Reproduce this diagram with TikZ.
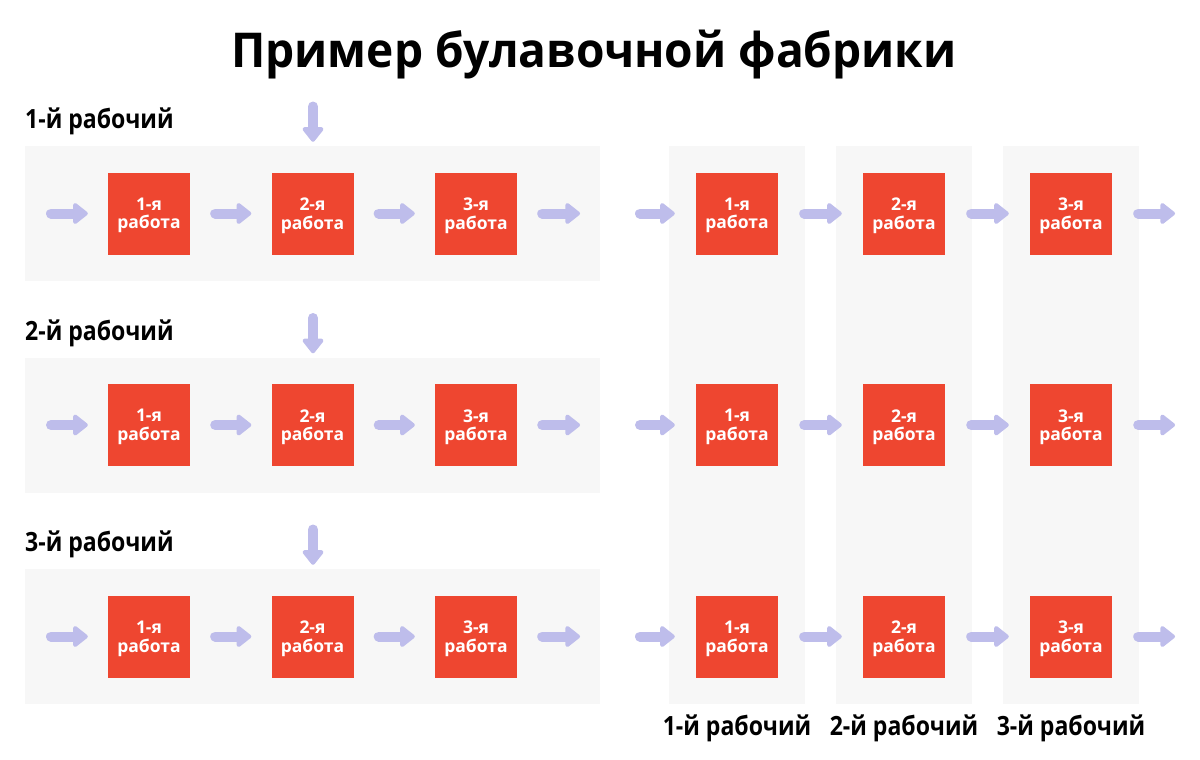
\documentclass[tikz,border=0pt]{standalone}
\usepackage{fontspec}
\setmainfont{Open Sans}
\newfontfamily\titlefont{Open Sans}[FakeStretch=0.96]
\newfontfamily\labelfont{Open Sans}[FakeStretch=0.87]
\usetikzlibrary{arrows.meta,positioning}
\definecolor{panelgray}{HTML}{F7F7F7}
\definecolor{jobred}{HTML}{EE4630}
\definecolor{flowlilac}{HTML}{BEBDEB}
\begin{document}
\begin{tikzpicture}
[x=1pt,y=-1pt,
 panel/.style={fill=panelgray,inner sep=0pt},
 job/.style={fill=jobred,minimum size=82pt,inner sep=0pt,text=white,align=center,text depth=0pt,
   font=\bfseries\fontsize{17.5}{18.5}\selectfont},
 flow/.style={draw=flowlilac,line width=10pt,line cap=round,
   -{Triangle[length=16pt,width=24pt,round]},shorten <=25pt,shorten >=20pt},
 worker/.style={inner sep=0pt,font=\labelfont\bfseries\fontsize{26.5}{28}\selectfont}]
\useasboundingbox (0,0) rectangle (1200,760);
% title
\node[inner sep=0pt,anchor=base,font=\titlefont\bfseries\fontsize{48}{56}\selectfont] (title) at (594,67) {Пример булавочной фабрики};
% columns: one worker per job
\foreach \j in {1,2,3}
  \node[panel,minimum width=136pt,minimum height=558pt] (c\j) at (737+\j*167-167,425) {};
\foreach \j in {1,2,3}
  \node[worker,anchor=base] (cw\j) at (737+\j*167-167,735) {\j-й рабочий};
% rows: one worker does all jobs
\foreach \r in {1,2,3} {
  \pgfmathsetmacro{\y}{213.5+(\r-1)*211.5}
  \node[panel,minimum width=575pt,minimum height=135pt] (p\r) at (312.5,\y) {};
  \node[worker,anchor=base west] (w\r) at (25,\y-85) {\r-й рабочий};
  \foreach \j in {1,2,3} {
    \node[job] (a\r-\j) at (149+\j*163.5-163.5,\y) {\j-я\\работа};
    \node[job] (b\r-\j) at (737+\j*167-167,\y) {\j-я\\работа};
  }
  \coordinate (lin\r) at (26,\y);
  \coordinate (lout\r) at (600,\y);
  \coordinate (rin\r) at (614,\y);
  \coordinate (rout\r) at (1196,\y);
  \coordinate (top\r) at (313,\y-107);
  % left
  \draw[flow] (lin\r) -- (a\r-1);
  \draw[flow] (a\r-1) -- (a\r-2);
  \draw[flow] (a\r-2) -- (a\r-3);
  \draw[flow] (a\r-3) -- (lout\r);
  \draw[flow,shorten <=0pt,shorten >=4pt] (top\r) -- (top\r |- p\r.north);
  % right
  \draw[flow,shorten <=26pt,shorten >=21pt] (rin\r) -- (b\r-1);
  \draw[flow,shorten <=26pt,shorten >=21pt] (b\r-1) -- (b\r-2);
  \draw[flow,shorten <=26pt,shorten >=21pt] (b\r-2) -- (b\r-3);
  \draw[flow,shorten <=26pt,shorten >=21pt] (b\r-3) -- (rout\r);
}
\end{tikzpicture}
\end{document}
